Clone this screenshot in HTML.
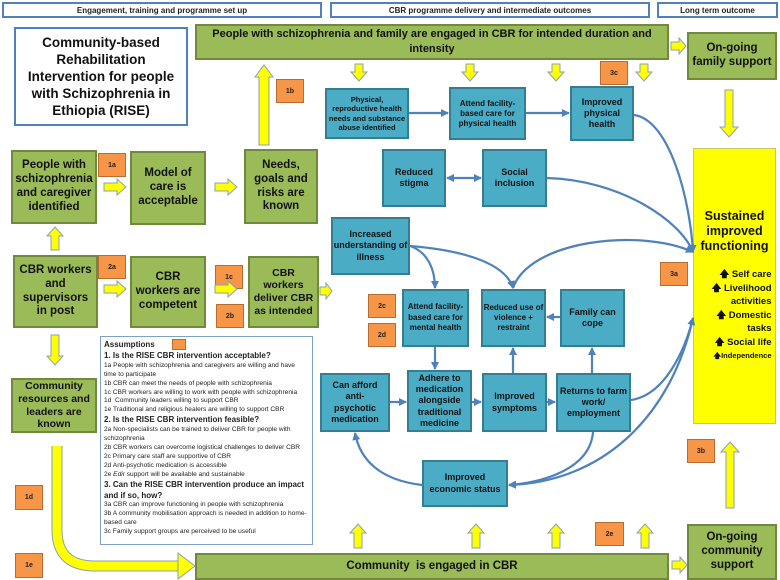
<!DOCTYPE html>
<html><head><meta charset="utf-8"><style>
body{margin:0;width:780px;height:580px;position:relative;background:#fff;overflow:hidden;font-family:"Liberation Sans",sans-serif}
.b{position:absolute;box-sizing:border-box;display:flex;align-items:center;justify-content:center;text-align:center;font-weight:bold}
.h{background:#fff;border:2px solid #4f81bd;font-size:8px;color:#222}
.g{background:#9bbb59;border:2px solid #71893f;font-size:11.5px;line-height:1.2;color:#111;padding:0 2px}
.c{background:#4bacc6;border:2px solid #357d91;font-size:9px;line-height:1.25;color:#111}
.o{background:#f79646;border:1px solid #b66d31;font-size:7px;color:#222}
.as{position:absolute;left:100px;top:336px;width:213px;height:209px;box-sizing:border-box;border:1px solid #7fa0c8;padding:3px 3px;font-size:6.6px;line-height:8.9px;color:#222;background:#fff}
.as b{font-size:8px;line-height:10px}
</style></head><body>
<div class="b h" style="left:2px;top:2px;width:320px;height:16px">Engagement, training and programme set up</div>
<div class="b h" style="left:330px;top:2px;width:320px;height:16px">CBR programme delivery and intermediate outcomes</div>
<div class="b h" style="left:657px;top:2px;width:121px;height:16px">Long term outcome</div>
<div class="b" style="left:14px;top:27px;width:174px;height:99px;border:2px solid #4f81bd;font-size:13.5px;line-height:17px;color:#111;padding:0 6px">Community-based Rehabilitation Intervention for people with Schizophrenia in Ethiopia (RISE)</div>
<div class="b g" style="left:195px;top:24px;width:474px;height:36px;font-size:11px;line-height:15px">People with schizophrenia and family are engaged in CBR for intended duration and intensity</div>
<div class="b g" style="left:687px;top:32px;width:90px;height:48px">On-going family support</div>
<div class="b g" style="left:11px;top:150px;width:86px;height:74px">People with schizophrenia and caregiver identified</div>
<div class="b g" style="left:130px;top:151px;width:76px;height:74px">Model of care is acceptable</div>
<div class="b g" style="left:244px;top:149px;width:74px;height:75px">Needs, goals and risks are known</div>
<div class="b g" style="left:13px;top:255px;width:85px;height:73px">CBR workers and supervisors in post</div>
<div class="b g" style="left:130px;top:256px;width:76px;height:72px">CBR workers are competent</div>
<div class="b g" style="left:248px;top:256px;width:71px;height:72px;font-size:10.5px">CBR workers deliver CBR as intended</div>
<div class="b g" style="left:11px;top:378px;width:86px;height:55px;font-size:10.5px">Community resources and leaders are known</div>
<div class="b g" style="left:195px;top:553px;width:474px;height:27px">Community &nbsp;is engaged in CBR</div>
<div class="b g" style="left:687px;top:524px;width:90px;height:56px">On-going community support</div>
<div class="b" style="left:693px;top:148px;width:83px;height:276px;background:#ffff00;border:1px solid #c8c860;font-size:12.5px;line-height:15px;flex-direction:column;color:#111">
<div>Sustained improved functioning</div>
<div style="font-size:9.5px;line-height:13.5px;text-align:right;margin-top:14px;width:74px">🡅 Self care<br>🡅 Livelihood activities<br>🡅 Domestic tasks<br>🡅 Social life<br><span style="font-size:7.5px">🡅Independence</span></div></div>
<div class="b c" style="left:325px;top:88px;width:84px;height:51px;font-size:7.5px;line-height:9.5px">Physical, reproductive health needs and substance abuse identified</div>
<div class="b c" style="left:449px;top:87px;width:77px;height:53px;font-size:8px">Attend facility-based care for physical health</div>
<div class="b c" style="left:570px;top:86px;width:64px;height:55px">Improved physical health</div>
<div class="b c" style="left:382px;top:149px;width:64px;height:58px">Reduced stigma</div>
<div class="b c" style="left:482px;top:149px;width:65px;height:58px">Social inclusion</div>
<div class="b c" style="left:331px;top:217px;width:79px;height:58px">Increased understanding of illness</div>
<div class="b c" style="left:402px;top:289px;width:67px;height:58px;font-size:8px;line-height:10.5px">Attend facility-based care for mental health</div>
<div class="b c" style="left:481px;top:289px;width:65px;height:58px;font-size:8px">Reduced use of violence + restraint</div>
<div class="b c" style="left:560px;top:289px;width:65px;height:58px">Family can cope</div>
<div class="b c" style="left:320px;top:373px;width:70px;height:59px;padding:0 3px">Can afford anti-psychotic medication</div>
<div class="b c" style="left:407px;top:370px;width:65px;height:62px">Adhere to medication alongside traditional medicine</div>
<div class="b c" style="left:482px;top:373px;width:65px;height:59px">Improved symptoms</div>
<div class="b c" style="left:556px;top:373px;width:75px;height:59px">Returns to farm work/ employment</div>
<div class="b c" style="left:422px;top:460px;width:86px;height:47px">Improved economic status</div>
<div class="b o" style="left:98px;top:153px;width:28px;height:24px">1a</div>
<div class="b o" style="left:276px;top:79px;width:28px;height:24px">1b</div>
<div class="b o" style="left:98px;top:255px;width:28px;height:24px">2a</div>
<div class="b o" style="left:215px;top:265px;width:28px;height:24px">1c</div>
<div class="b o" style="left:216px;top:304px;width:28px;height:24px">2b</div>
<div class="b o" style="left:600px;top:61px;width:28px;height:24px">3c</div>
<div class="b o" style="left:368px;top:294px;width:28px;height:24px">2c</div>
<div class="b o" style="left:368px;top:323px;width:28px;height:24px">2d</div>
<div class="b o" style="left:660px;top:262px;width:28px;height:24px">3a</div>
<div class="b o" style="left:687px;top:439px;width:28px;height:24px">3b</div>
<div class="b o" style="left:595px;top:522px;width:29px;height:24px">2e</div>
<div class="b o" style="left:15px;top:485px;width:28px;height:25px">1d</div>
<div class="b o" style="left:15px;top:553px;width:28px;height:25px">1e</div>
<div class="as"><b>Assumptions</b><br><b>1. Is the RISE CBR intervention acceptable?</b><br>1a People with schizophrenia and caregivers are willing and have time to participate<br>1b CBR can meet the needs of people with schizophrenia<br>1c CBR workers are willing to work with people with schizophrenia<br>1d &nbsp;Community leaders willing to support CBR<br>1e Traditional and religious healers are willing to support CBR<br><b>2. Is the RISE CBR intervention feasible?</b><br>2a Non-specialists can be trained to deliver CBR for people with schizophrenia<br>2b CBR workers can overcome logistical challenges to deliver CBR<br>2c Primary care staff are supportive of CBR<br>2d Anti-psychotic medication is accessible<br>2e <i>Edir</i> support will be available and sustainable<br><b>3. Can the RISE CBR intervention produce an impact and if so, how?</b><br>3a CBR can improve functioning in people with schizophrenia<br>3b A community mobilisation approach is needed in addition to home-based care<br>3c Family support groups are perceived to be useful</div>
<div class="b o" style="left:172px;top:339px;width:14px;height:11px"></div>
<svg width="780" height="580" style="position:absolute;left:0;top:0" viewBox="0 0 780 580">
<defs><marker id="a" markerWidth="8" markerHeight="8" refX="7" refY="4" orient="auto" markerUnits="userSpaceOnUse"><path d="M0,0L8,4L0,8z" fill="#4f81bd"/></marker>
<marker id="s" markerWidth="8" markerHeight="8" refX="1" refY="4" orient="auto" markerUnits="userSpaceOnUse"><path d="M8,0L0,4L8,8z" fill="#4f81bd"/></marker></defs>
<g fill="none" stroke="#4f81bd" stroke-width="2.2" marker-end="url(#a)">
<path d="M409,113H448"/><path d="M526,113H569"/>
<path d="M447,178H481" marker-start="url(#s)"/>
<path d="M435,347V369"/><path d="M390,402H406"/><path d="M472,402H481"/><path d="M547,402H555"/>
<path d="M513,373V348"/><path d="M592,373V348"/><path d="M560,317H547"/>
<path d="M634,115C670,120 690,200 693,252"/>
<path d="M547,178C620,180 680,220 693,252"/>
<path d="M410,246C460,250 505,262 513,288"/>
<path d="M410,246C428,252 435,270 435,288"/>
<path d="M513,288C530,240 640,228 693,252"/>
<path d="M631,400C665,395 685,350 693,318"/>
<path d="M693,318C670,420 600,482 509,485"/>
<path d="M593,432C590,470 540,483 509,485"/>
<path d="M422,485C380,480 360,460 355,433"/>
</g>
<g fill="#ffff00" stroke="#8aa0b8" stroke-width="1">
<path d="M57,446L57,530Q57,566 95,566L180,566" fill="none" stroke="#8aa0b8" stroke-width="11"/>
<path d="M57,446L57,530Q57,566 95,566L181,566" fill="none" stroke="#ffff00" stroke-width="9"/>
<polygon points="178,553 195,566 178,579"/>
<polygon points="104,183 117,183 117,179 126,187 117,195 117,191 104,191"/>
<polygon points="215,183 228,183 228,179 237,187 228,195 228,191 215,191"/>
<polygon points="104,285 117,285 117,281 126,289 117,297 117,293 104,293"/>
<polygon points="215,285 228,285 228,281 237,289 228,297 228,293 215,293"/>
<polygon points="320,287 326,287 326,283 332,291 326,299 326,295 320,295"/>
<polygon points="671,42 679,42 679,38 686,46 679,54 679,50 671,50"/>
<polygon points="672,561 680,561 680,557 687,565 680,573 680,569 672,569"/>
<polygon points="259,145 259,77 255,77 264,65 273,77 269,77 269,145"/>
<polygon points="51,250 51,236 47,236 55,227 63,236 59,236 59,250"/>
<polygon points="51,335 51,356 47,356 55,365 63,356 59,356 59,335"/>
<polygon points="355,64 355,72 351,72 359,81 367,72 363,72 363,64"/>
<polygon points="466,64 466,72 462,72 470,81 478,72 474,72 474,64"/>
<polygon points="552,64 552,72 548,72 556,81 564,72 560,72 560,64"/>
<polygon points="640,64 640,72 636,72 644,81 652,72 648,72 648,64"/>
<polygon points="725,90 725,127 720,127 729,137 738,127 733,127 733,90"/>
<polygon points="354,548 354,533 350,533 358,524 366,533 362,533 362,548"/>
<polygon points="472,548 472,533 468,533 476,524 484,533 480,533 480,548"/>
<polygon points="552,548 552,533 548,533 556,524 564,533 560,533 560,548"/>
<polygon points="641,548 641,533 637,533 645,524 653,533 649,533 649,548"/>
<polygon points="726,508 726,452 721,452 730,442 739,452 734,452 734,508"/>
</g>
</svg>
</body></html>
